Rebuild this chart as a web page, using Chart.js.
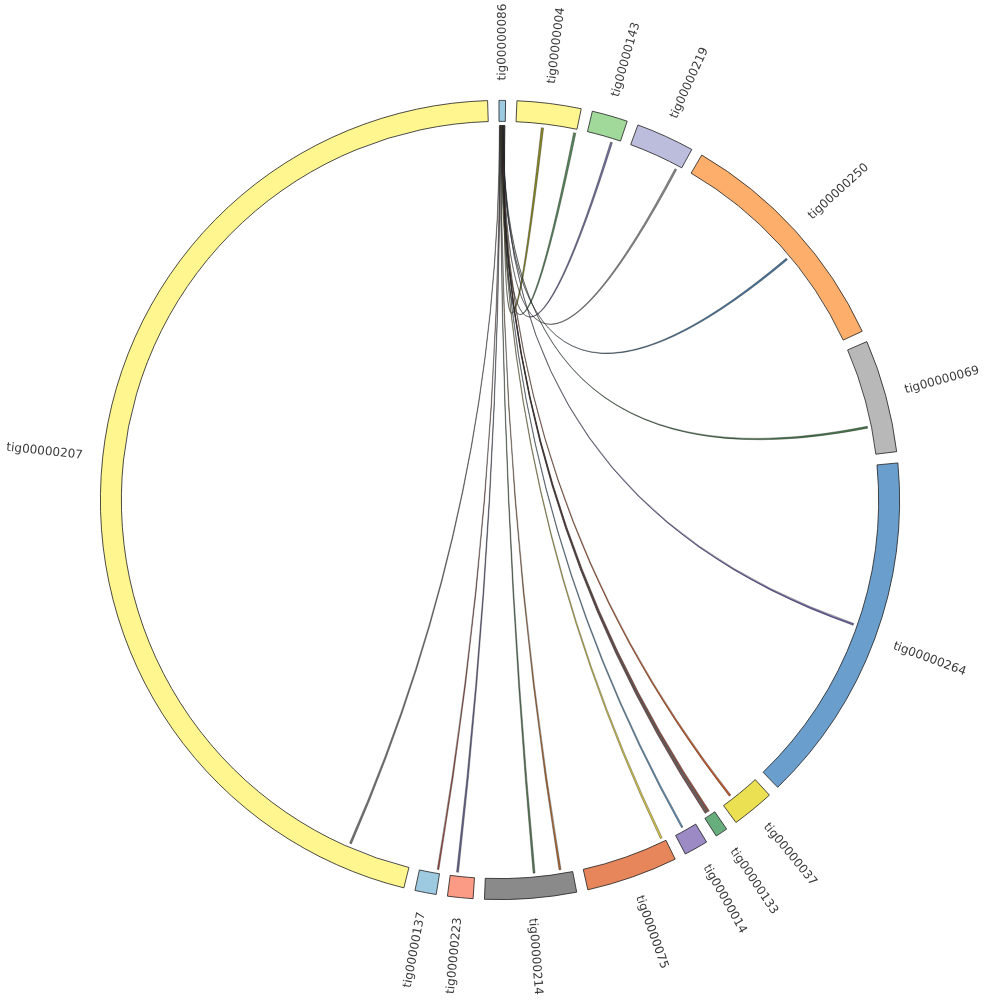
<!DOCTYPE html>
<html>
<head>
<meta charset="utf-8">
<script src="https://cdn.jsdelivr.net/npm/chart.js@4"></script>
<style>
  body { margin: 0; background: #fff; }
  canvas { display: block; }
</style>
</head>
<body>
<canvas id="circos" width="1000" height="1000"></canvas>
<script>
// contigs in drawing order (clockwise from the top)
var contigs = ['tig00000086', 'tig00000004', 'tig00000143', 'tig00000219', 'tig00000250',
  'tig00000069', 'tig00000264', 'tig00000037', 'tig00000133', 'tig00000014',
  'tig00000075', 'tig00000214', 'tig00000223', 'tig00000137', 'tig00000207'];
var contigLengths = [0.95, 9.3, 5.2, 8.5, 34.7, 16.4, 51.3, 6.2, 1.8, 3.5, 13.3, 13.3, 3.7, 3.1, 164.3];

// links: every one starts on tig00000086
var linkSource = ['tig00000086', 'tig00000086', 'tig00000086', 'tig00000086', 'tig00000086', 'tig00000086',
  'tig00000086', 'tig00000086', 'tig00000086', 'tig00000086', 'tig00000086', 'tig00000086',
  'tig00000086', 'tig00000086', 'tig00000086', 'tig00000086', 'tig00000086', 'tig00000086'];
var linkSourceStart = [0.86, 0.81, 0.77, 0.72, 0.67, 0.62, 0.57, 0.52, 0.47, 0.43, 0.39, 0.35, 0.31, 0.26, 0.21, 0.16, 0.11, 0.05];
var linkSourceEnd = [0.92, 0.87, 0.83, 0.78, 0.73, 0.68, 0.63, 0.58, 0.52, 0.48, 0.44, 0.40, 0.36, 0.32, 0.27, 0.22, 0.17, 0.11];
var linkTarget = ['tig00000004', 'tig00000004', 'tig00000143', 'tig00000219', 'tig00000250', 'tig00000069',
  'tig00000264', 'tig00000037', 'tig00000133', 'tig00000133', 'tig00000133', 'tig00000014',
  'tig00000075', 'tig00000214', 'tig00000214', 'tig00000223', 'tig00000137', 'tig00000207'];
var linkTargetStart = [3.9, 8.9, 3.8, 7.65, 19.5, 12.0, 24.55, 4.35, 0.6, 0.9, 1.15, 1.9, 0.35, 1.7, 5.7, 2.5, 0.2, 9.45];
var linkTargetEnd = [4.25, 9.25, 4.1, 7.95, 19.8, 12.3, 24.85, 4.65, 0.85, 1.1, 1.35, 2.15, 0.65, 2.0, 6.0, 2.8, 0.45, 9.75];

var ringColors = ['#9ecae1', '#fff68f', '#a1d99b', '#bcbddc', '#fdae6b', '#b8b8b8', '#6a9ecd', '#ebe052',
  '#68ae7d', '#9b8ac4', '#e6865a', '#8a8a8a', '#fb9a85', '#9ecae1', '#fff68f'];
var linkColors = ['#8a8a24', '#56865a', '#7272a0', '#8a8a8a', '#46749c', '#46764a', '#6a64a0', '#c05a2c',
  '#a4503e', '#666666', '#84504e', '#6090b4', '#d8c848', '#a86832', '#587a58', '#64648c', '#984e44', '#767676'];

var GAP = 1.63;

// doughnut data: each contig followed by an empty gap slice
var ringData = [], ringLabels = [], ringFill = [], ringBorder = [];
contigs.forEach(function (c, i) {
  ringData.push(contigLengths[i], GAP);
  ringLabels.push(c, '');
  ringFill.push(ringColors[i], 'rgba(0,0,0,0)');
  ringBorder.push(0.8, 0);
});

function angleOf(meta, name, pos) {
  var i = contigs.indexOf(name);
  var el = meta.data[i * 2];
  return el.startAngle + (el.endAngle - el.startAngle) * pos / contigLengths[i];
}

var chordPlugin = {
  id: 'chords',
  afterDatasetsDraw: function (chart) {
    var meta = chart.getDatasetMeta(0);
    var ctx = chart.ctx;
    var el0 = meta.data[0];
    var cx = el0.x, cy = el0.y, r = el0.innerRadius - 4;
    ctx.save();
    ctx.lineWidth = 0.5;
    ctx.strokeStyle = 'rgba(25,25,25,0.75)';
    for (var k = 0; k < linkTarget.length; k++) {
      var s0 = angleOf(meta, linkSource[k], linkSourceStart[k]);
      var s1 = angleOf(meta, linkSource[k], linkSourceEnd[k]);
      var t0 = angleOf(meta, linkTarget[k], linkTargetStart[k]);
      var t1 = angleOf(meta, linkTarget[k], linkTargetEnd[k]);
      ctx.beginPath();
      ctx.moveTo(cx + r * Math.cos(s0), cy + r * Math.sin(s0));
      ctx.arc(cx, cy, r, s0, s1);
      ctx.quadraticCurveTo(cx, cy, cx + r * Math.cos(t0), cy + r * Math.sin(t0));
      ctx.arc(cx, cy, r, t0, t1);
      ctx.quadraticCurveTo(cx, cy, cx + r * Math.cos(s0), cy + r * Math.sin(s0));
      ctx.closePath();
      ctx.fillStyle = linkColors[k];
      ctx.fill();
      ctx.stroke();
    }
    ctx.restore();
  }
};

var labelPlugin = {
  id: 'contigLabels',
  afterDatasetsDraw: function (chart) {
    var meta = chart.getDatasetMeta(0);
    var ctx = chart.ctx;
    ctx.save();
    ctx.font = '12px "DejaVu Sans"';
    ctx.fillStyle = '#3a3a3a';
    ctx.textBaseline = 'middle';
    contigs.forEach(function (c, i) {
      var el = meta.data[i * 2];
      var a = (el.startAngle + el.endAngle) / 2;
      var R = el.outerRadius + 20;
      ctx.save();
      ctx.translate(el.x + R * Math.cos(a), el.y + R * Math.sin(a));
      var deg = (a + Math.PI / 2) * 180 / Math.PI;
      if (deg < 180) {
        ctx.rotate(a);
        ctx.textAlign = 'left';
      } else {
        ctx.rotate(a + Math.PI);
        ctx.textAlign = 'right';
      }
      ctx.fillText(c, 0, 0);
      ctx.restore();
    });
    ctx.restore();
  }
};

new Chart(document.getElementById('circos').getContext('2d'), {
  type: 'doughnut',
  data: {
    labels: ringLabels,
    datasets: [{
      data: ringData,
      backgroundColor: ringFill,
      borderColor: '#1e1e1e',
      borderWidth: ringBorder
    }]
  },
  options: {
    responsive: false,
    animation: false,
    devicePixelRatio: 1,
    rotation: -0.15,
    circumference: 360,
    cutout: '94.75%',
    layout: { padding: 100 },
    plugins: {
      legend: { display: false },
      tooltip: { enabled: false }
    }
  },
  plugins: [chordPlugin, labelPlugin]
});
</script>
</body>
</html>
